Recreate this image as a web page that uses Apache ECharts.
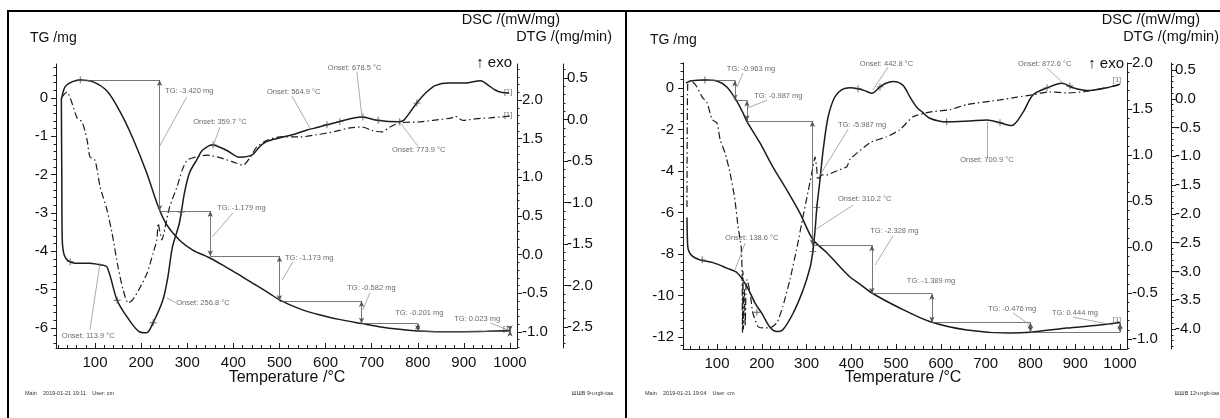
<!DOCTYPE html>
<html><head><meta charset="utf-8">
<script src="https://cdn.jsdelivr.net/npm/echarts@6/dist/echarts.min.js"></script>
<style>html,body{margin:0;padding:0;background:#fff}#c{width:1220px;height:418px}</style>
</head><body><div id="c"></div>
<script>
// ---------------- Panel 1 data ----------------
const p1TgT = [28, 35, 50, 68, 96, 126, 154, 182, 212, 236, 255, 284, 312, 348, 385, 413, 440, 478, 500, 543, 586, 629, 679, 716, 760, 800, 850, 900, 950, 1000];
const p1Tg  = [0.0, 0.29, 0.42, 0.47, 0.42, 0.18, -0.35, -1.05, -1.95, -2.80, -3.30, -3.72, -3.97, -4.17, -4.42, -4.62, -4.82, -5.10, -5.27, -5.50, -5.66, -5.78, -5.89, -5.97, -6.04, -6.08, -6.10, -6.10, -6.09, -6.07];
const p1DscT = [27, 28, 29, 33, 42, 57, 89, 111, 126, 148, 170, 197, 212, 226, 247, 258, 268, 283, 294, 305, 320, 333, 355, 385, 413, 441, 456, 471, 500, 528, 558, 586, 629, 679, 711, 759, 770, 795, 817, 839, 867, 903, 936, 953, 968, 981, 998];
const p1Dsc  = [2.03, 0.97, 0.19, 0.0, -0.08, -0.11, -0.11, -0.13, -0.16, -0.59, -0.81, -1.00, -1.01, -0.88, -0.59, -0.29, 0.10, 0.41, 0.80, 1.06, 1.22, 1.35, 1.42, 1.35, 1.26, 1.29, 1.39, 1.46, 1.51, 1.55, 1.61, 1.65, 1.72, 1.78, 1.74, 1.72, 1.74, 1.94, 2.09, 2.19, 2.22, 2.22, 2.25, 2.19, 2.13, 2.10, 2.09];
const p1DtgT = [28, 39, 50, 61, 72, 83, 89, 100, 111, 126, 137, 150, 161, 172, 182, 198, 213, 226, 234, 237, 241, 245, 252, 262, 278, 289, 300, 321, 343, 371, 399, 421, 436, 451, 473, 501, 545, 573, 616, 653, 679, 701, 722, 740, 761, 798, 833, 874, 881, 898, 928, 957, 978, 1000];
const p1Dtg  = [0.27, 0.33, 0.20, 0.02, -0.03, -0.25, -0.45, -0.49, -0.81, -1.09, -1.37, -1.78, -2.05, -2.21, -2.17, -2.02, -1.85, -1.61, -1.45, -1.25, -1.36, -1.45, -1.30, -1.05, -0.81, -0.61, -0.49, -0.45, -0.43, -0.46, -0.51, -0.55, -0.46, -0.33, -0.25, -0.21, -0.21, -0.19, -0.15, -0.10, -0.09, -0.13, -0.15, -0.09, -0.04, -0.03, -0.01, 0.02, 0.04, -0.01, 0.01, 0.02, 0.03, 0.04];
const p1StepT   = [63, 240, 350, 500, 678, 800, 1000];
const p1StepTg  = [0.47, -2.95, -4.13, -5.30, -5.89, -6.09, -6.07];
const p1DscCross = [[46, -0.09], [148, -0.59], [226, -0.88], [287, 0.55], [356, 1.42], [603, 1.68], [631, 1.72], [681, 1.78], [714, 1.74], [761, 1.72], [798, 1.96]];
const p1TgCross  = [[68, 0.47]];
const p1Notes = [
  [252, 0.18, 'TG: -3.420 mg'], [313, -0.63, 'Onset: 359.7 °C'], [473, 0.16, 'Onset: 564.9 °C'],
  [605, 0.78, 'Onset: 678.5 °C'], [744, -1.36, 'Onset: 773.9 °C'], [365, -2.87, 'TG: -1.179 mg'],
  [512, -4.17, 'TG: -1.173 mg'], [647, -4.96, 'TG: -0.582 mg'], [751, -5.61, 'TG: -0.201 mg'],
  [879, -5.77, 'TG: 0.023 mg'], [276, -5.35, 'Onset: 256.8 °C'], [28, -6.21, 'Onset: 113.9 °C'],
  [987, 0.16, '[1]'], [987, -0.44, '[1]'], [985, -6.03, '[1]']
];
const p1Leaders = [
  [299, 0.03, 239, -1.28], [371, -0.76, 356, -1.25], [527, 0.05, 566, -0.78], [668, 0.68, 679, -0.50],
  [800, -1.25, 761, -0.63], [399, -3.00, 354, -3.63], [529, -4.28, 506, -4.75], [696, -5.09, 681, -5.53],
  [957, -5.87, 994, -6.05], [276, -5.35, 256, -5.22], [89, -6.05, 111, -4.30]
];

// ---------------- Panel 2 data ----------------
const p2TgT = [31, 40, 73, 100, 122, 142, 158, 167, 196, 225, 256, 285, 314, 346, 375, 397, 419, 446, 508, 575, 658, 754, 800, 881, 950, 1000];
const p2Tg  = [0.24, 0.34, 0.39, 0.34, 0.05, -0.55, -1.20, -1.62, -2.65, -3.81, -4.92, -6.02, -7.30, -7.95, -8.63, -9.11, -9.45, -9.88, -10.60, -11.25, -11.66, -11.81, -11.77, -11.57, -11.43, -11.30];
const p2DscT = [33, 34, 36, 45, 62, 91, 122, 145, 167, 185, 200, 218, 234, 247, 270, 292, 308, 314, 319, 323, 330, 337, 348, 363, 379, 397, 415, 430, 446, 464, 477, 493, 515, 531, 546, 560, 575, 613, 665, 703, 732, 758, 783, 805, 837, 870, 895, 926, 970, 1000];
const p2Dsc  = [0.32, 0.08, -0.03, -0.10, -0.14, -0.17, -0.23, -0.28, -0.43, -0.61, -0.72, -0.87, -0.92, -0.90, -0.72, -0.47, -0.22, -0.05, 0.18, 0.43, 0.73, 1.05, 1.41, 1.63, 1.71, 1.73, 1.72, 1.70, 1.67, 1.74, 1.78, 1.80, 1.76, 1.63, 1.52, 1.46, 1.40, 1.36, 1.37, 1.38, 1.35, 1.32, 1.46, 1.65, 1.73, 1.78, 1.73, 1.70, 1.73, 1.77];
const p2DtgT = [33, 35, 44, 55, 67, 78, 89, 100, 107, 118, 129, 140, 147, 154, 156, 157, 158, 159, 161, 163, 165, 167, 174, 180, 192, 203, 218, 234, 247, 263, 279, 292, 303, 312, 319, 323, 325, 334, 346, 359, 375, 390, 397, 442, 479, 508, 538, 575, 620, 658, 732, 770, 805, 843, 881, 917, 955, 1000];
const p2Dtg  = [-1.88, 0.30, 0.30, 0.21, 0.03, -0.07, -0.36, -0.42, -0.71, -0.94, -1.28, -1.75, -2.22, -2.57, -3.02, -4.06, -3.00, -4.00, -3.30, -3.95, -3.20, -3.14, -3.37, -3.72, -3.96, -3.98, -3.98, -3.89, -3.61, -3.14, -2.57, -2.05, -1.63, -1.28, -1.01, -1.23, -1.41, -1.32, -1.32, -1.28, -1.23, -1.18, -1.05, -0.76, -0.66, -0.54, -0.31, -0.23, -0.19, -0.10, -0.02, 0.03, 0.07, 0.12, 0.10, 0.12, 0.17, 0.24];
const p2StepT  = [78, 140, 167, 313, 446, 580, 800, 1000];
const p2StepTg = [0.36, -0.60, -1.59, -7.58, -9.91, -11.30, -11.77, -11.33];
const p2DscCross = [[67, -0.14], [189, -0.71], [314, -0.05], [323, 0.43], [415, 1.72], [464, 1.74], [613, 1.36], [732, 1.35], [837, 1.73], [888, 1.75]];
const p2TgCross  = [[73, 0.39]];
const p2Notes = [
  [122, 0.92, 'TG: -0.963 mg'], [183, -0.39, 'TG: -0.987 mg'], [370, -1.78, 'TG: -5.987 mg'],
  [419, 1.16, 'Onset: 442.8 °C'], [370, -5.35, 'Onset: 310.2 °C'], [442, -6.89, 'TG: -2.328 mg'],
  [118, -7.23, 'Onset: 138.6 °C'], [524, -9.30, 'TG: -1.389 mg'], [705, -10.65, 'TG: -0.476 mg'],
  [848, -10.84, 'TG: 0.444 mg'], [643, -3.47, 'Onset: 700.9 °C'], [772, 1.16, 'Onset: 872.6 °C'],
  [984, 0.39, '[1]'], [984, -11.18, '[1]']
];
const p2Leaders = [
  [158, 0.72, 145, 0.05], [212, -0.58, 169, -0.96], [393, -1.98, 326, -4.34], [482, 1.01, 448, -0.10],
  [404, -5.64, 319, -6.84], [493, -7.13, 453, -8.53], [163, -7.47, 140, -8.77], [761, -10.84, 799, -11.42],
  [895, -11.04, 984, -11.42], [703, -1.64, 703, -3.33], [837, 0.96, 873, 0.24]
];

// tick labels
const xLabels = [100, 200, 300, 400, 500, 600, 700, 800, 900, 1000];
const p1TgLabels  = [0, -1, -2, -3, -4, -5, -6];
const p1DscLabels = [2.0, 1.5, 1.0, 0.5, 0.0, -0.5, -1.0];
const p1DtgLabels = [0.5, 0.0, -0.5, -1.0, -1.5, -2.0, -2.5];
const p2TgLabels  = [0, -2, -4, -6, -8, -10, -12];
const p2DscLabels = [2.0, 1.5, 1.0, 0.5, 0.0, -0.5, -1.0];
const p2DtgLabels = [0.5, 0.0, -0.5, -1.0, -1.5, -2.0, -2.5, -3.0, -3.5, -4.0];

// ---------------- build ----------------
const FONT = '"Liberation Sans", Arial, Helvetica, sans-serif';
const INK = '#1c1c1c';
function zip(a, b) { return a.map((v, i) => [v, b[i]]); }
function ticks(a, b, s) { const r = []; for (let v = a; v <= b + 1e-9; v += s) r.push(+v.toFixed(4)); return r; }

function yPair(grid, min, max, pos, offset, labels, minor, fmt, margin) {
  const base = { type: 'value', gridIndex: grid, min, max, position: pos, offset, splitLine: { show: false } };
  return [
    Object.assign({}, base, {
      axisLine: { show: true, onZero: false, lineStyle: { color: INK, width: 1 } },
      axisTick: { show: true, customValues: labels, length: 5, lineStyle: { color: INK } },
      axisLabel: { show: true, customValues: labels, formatter: fmt, margin, color: '#111', fontSize: 15, fontFamily: FONT, hideOverlap: false }
    }),
    Object.assign({}, base, {
      axisLine: { show: false, onZero: false },
      axisTick: { show: true, customValues: minor, length: 2.5, lineStyle: { color: INK } },
      axisLabel: { show: false }
    })
  ];
}
function xPair(grid, min, max) {
  const base = { type: 'value', gridIndex: grid, min, max, position: 'bottom', splitLine: { show: false } };
  return [
    Object.assign({}, base, {
      axisLine: { show: true, onZero: false, lineStyle: { color: INK, width: 1 } },
      axisTick: { show: true, inside: true, customValues: ticks(20, 1000, 20), length: 3, lineStyle: { color: INK } },
      axisLabel: { show: true, customValues: xLabels, formatter: v => String(v), margin: 7, color: '#111', fontSize: 15, fontFamily: FONT }
    }),
    Object.assign({}, base, {
      axisLine: { show: false, onZero: false },
      axisTick: { show: true, inside: true, customValues: xLabels, length: 5, lineStyle: { color: INK } },
      axisLabel: { show: false }
    })
  ];
}
const f1 = v => Number(v).toFixed(1);
const f0 = v => String(v);

const xAxis = [...xPair(0, 15.4, 1015.2), ...xPair(1, 24.1, 1015.6)];
const yAxis = [
  ...yPair(0, -6.527, 0.888, 'left', 0, p1TgLabels, ticks(-6.4, 0.8, 0.2), f0, 8),
  ...yPair(0, -1.207, 2.466, 'right', 0, p1DscLabels, ticks(-1.2, 2.4, 0.1), f1, 5),
  ...yPair(0, -2.753, 0.669, 'right', 46, p1DtgLabels, ticks(-2.7, 0.6, 0.1), f1, 4),
  ...yPair(1, -12.578, 1.205, 'left', 0, p2TgLabels, ticks(-12.4, 1.2, 0.4), f0, 9),
  ...yPair(1, -1.109, 2.0, 'right', 0, p2DscLabels, ticks(-1.1, 2.0, 0.1), f1, 5),
  ...yPair(1, -4.347, 0.622, 'right', 44, p2DtgLabels, ticks(-4.3, 0.6, 0.1), f1, 4)
];

function curve(xi, yi, data, dash, w, sm) {
  return { type: 'line', xAxisIndex: xi, yAxisIndex: yi, data, symbol: 'none', smooth: sm == null ? 0.3 : sm,
    lineStyle: { color: INK, width: w || 1.5, type: dash || 'solid' }, silent: true, z: 3 };
}
function stepLines(T, L) {
  const out = [];
  for (let i = 0; i < T.length - 1; i++) {
    out.push([{ coord: [T[i], L[i]], symbol: 'none' }, { coord: [T[i + 1], L[i]], symbol: 'none' }]);
    out.push([{ coord: [T[i + 1], L[i]], symbol: 'arrow' }, { coord: [T[i + 1], L[i + 1]], symbol: 'arrow' }]);
  }
  return out;
}
function annot(xi, yi, T, L, leaders) {
  return [
    { type: 'line', xAxisIndex: xi, yAxisIndex: yi, data: [[T[0], L[0]]], symbol: 'none', lineStyle: { opacity: 0 }, silent: true,
      markLine: { silent: true, animation: false, symbol: ['none', 'none'], symbolSize: [4, 6], label: { show: false },
        lineStyle: { color: '#555', width: 0.8, type: 'solid' }, emphasis: { disabled: true }, data: stepLines(T, L) } },
    { type: 'line', xAxisIndex: xi, yAxisIndex: yi, data: [[T[0], L[0]]], symbol: 'none', lineStyle: { opacity: 0 }, silent: true,
      markLine: { silent: true, animation: false, symbol: ['none', 'none'], label: { show: false },
        lineStyle: { color: '#888', width: 0.7, type: 'solid' }, emphasis: { disabled: true },
        data: leaders.map(l => [{ coord: [l[0], l[1]] }, { coord: [l[2], l[3]] }]) } }
  ];
}
function notes(xi, yi, list) {
  return { type: 'scatter', xAxisIndex: xi, yAxisIndex: yi, symbolSize: 0, silent: true, clip: false, z: 5,
    data: list.map(n => ({ value: [n[0], n[1]], name: n[2] })),
    label: { show: true, formatter: '{b}', position: 'right', distance: 0, fontSize: 7.5, color: '#444', fontFamily: FONT } };
}
const PLUS = 'path://M3.5,0h1v8h-1z M0,3.5h8v1h-8z';
function crosses(xi, yi, list) {
  return { type: 'scatter', xAxisIndex: xi, yAxisIndex: yi, symbol: PLUS, symbolSize: 7, silent: true, z: 4,
    itemStyle: { color: '#333' }, data: list };
}
const DASHDOT = [7, 3, 1.5, 3];
const series = [
  curve(0, 0, zip(p1TgT, p1Tg)),
  curve(0, 2, zip(p1DscT, p1Dsc)),
  curve(0, 4, zip(p1DtgT, p1Dtg), DASHDOT, 1.2, 0.25),
  ...annot(0, 0, p1StepT, p1StepTg, p1Leaders),
  notes(0, 0, p1Notes),
  crosses(0, 2, p1DscCross), crosses(0, 0, p1TgCross),
  curve(2, 6, zip(p2TgT, p2Tg)),
  curve(2, 8, zip(p2DscT, p2Dsc)),
  curve(2, 10, zip(p2DtgT, p2Dtg), DASHDOT, 1.2, 0.15),
  ...annot(2, 6, p2StepT, p2StepTg, p2Leaders),
  notes(2, 6, p2Notes),
  crosses(2, 8, p2DscCross), crosses(2, 6, p2TgCross)
];

function txt(x, y, s, size, align, color) {
  return { type: 'text', x, y, silent: true, style: { text: s, font: size + 'px ' + FONT, fill: color || '#111', textAlign: align || 'left', textVerticalAlign: 'middle' } };
}
function ln(x1, y1, x2, y2, w) {
  return { type: 'line', silent: true, shape: { x1, y1, x2, y2 }, style: { stroke: '#000', lineWidth: w } };
}
const graphic = [
  ln(7, 11, 1220, 11, 2), ln(8, 11, 8, 418, 2), ln(626, 11, 626, 418, 2),
  txt(30, 38, 'TG /mg', 14), txt(560, 20, 'DSC /(mW/mg)', 14.5, 'right'), txt(612, 37, 'DTG /(mg/min)', 14.5, 'right'),
  txt(512, 63, '↑ exo', 15, 'right'), txt(287, 378, 'Temperature /°C', 16, 'center'),
  txt(25, 393, 'Main    2019-01-21 19:11    User: cm', 5.5, 'left', '#333'), txt(613, 393, 'ШШВ 9ч.ngb-taa', 5.5, 'right', '#333'),
  txt(650, 40, 'TG /mg', 14), txt(1200, 20, 'DSC /(mW/mg)', 14.5, 'right'), txt(1219, 37, 'DTG /(mg/min)', 14.5, 'right'),
  txt(1124, 64, '↑ exo', 15, 'right'), txt(903, 378, 'Temperature /°C', 16, 'center'),
  txt(645, 393, 'Main    2019-01-21 19:04    User: cm', 5.5, 'left', '#333'), txt(1219, 393, 'ШШВ 12ч.ngb-taa', 5.5, 'right', '#333')
];

const chart = echarts.init(document.getElementById('c'), null, { renderer: 'canvas' });
chart.setOption({
  animation: false,
  backgroundColor: '#fff',
  textStyle: { fontFamily: FONT },
  grid: [
    { left: 56, top: 64, width: 461, height: 284, containLabel: false },
    { left: 683, top: 63, width: 444, height: 286, containLabel: false }
  ],
  xAxis, yAxis, series, graphic
});
</script>
</body></html>
